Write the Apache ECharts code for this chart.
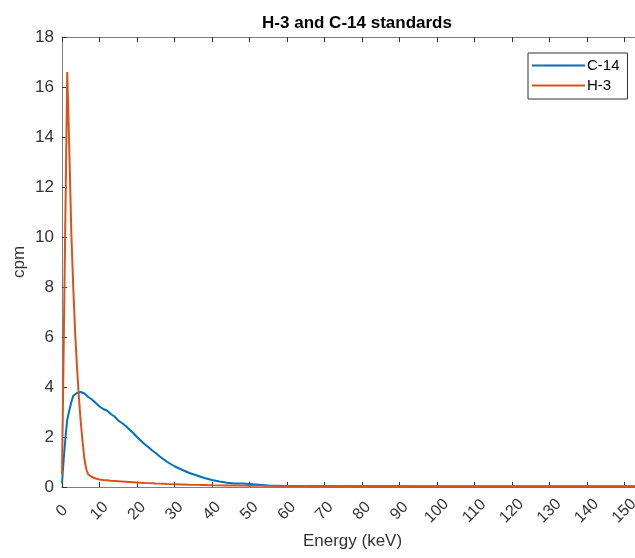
<!DOCTYPE html>
<html>
<head>
<meta charset="utf-8">
<script src="https://cdn.jsdelivr.net/npm/echarts@6/dist/echarts.min.js"></script>
<style>
  html, body { margin: 0; padding: 0; background: #fff; }
  #chart { width: 635px; height: 558px; }
</style>
</head>
<body>
<div id="chart"></div>
<script>
// energy grid (keV)
const energy = [0, 0.5, 1, 1.4, 2, 2.5, 3, 3.5, 4, 4.5, 5, 5.5, 6, 6.5, 7,
  8, 9, 10, 11, 12, 13, 14, 15, 16, 17, 18, 19, 20, 21, 22, 23, 24, 25, 26, 27, 28, 29, 30,
  32, 34, 36, 38, 40, 42, 44, 46, 48, 50,
  55, 60, 65, 70, 75, 80, 85, 90, 95, 100, 105, 110, 115, 120, 125, 130, 135, 140, 145, 150, 155];

const c14 = [0.15, 1.2, 2.1, 2.7, 3.1, 3.4, 3.65, 3.72, 3.76, 3.74, 3.8, 3.82, 3.74, 3.68, 3.6,
  3.5, 3.36, 3.22, 3.12, 3.06, 2.92, 2.82, 2.66, 2.56, 2.44, 2.3, 2.16, 2.0, 1.86, 1.72, 1.6, 1.47, 1.36, 1.23, 1.12, 1.01, 0.92, 0.83,
  0.69, 0.56, 0.46, 0.36, 0.28, 0.22, 0.17, 0.14, 0.14, 0.12,
  0.06, 0.04, 0.04, 0.03, 0.03, 0.03, 0.03, 0.03, 0.02, 0.02, 0.02, 0.02, 0.02, 0.02, 0.02, 0.02, 0.02, 0.02, 0.02, 0.02, 0.02];

const h3 = [0.5, 6.2, 12.0, 16.6, 13.2, 10.1, 8.0, 6.2, 4.8, 3.6, 2.6, 1.8, 1.1, 0.7, 0.5,
  0.4, 0.34, 0.3, 0.28, 0.27, 0.25, 0.24, 0.23, 0.22, 0.21, 0.2, 0.19, 0.18, 0.17, 0.16, 0.155, 0.15, 0.14, 0.135, 0.13, 0.12, 0.115, 0.11,
  0.1, 0.09, 0.085, 0.08, 0.07, 0.065, 0.06, 0.06, 0.055, 0.05,
  0.045, 0.04, 0.04, 0.04, 0.035, 0.035, 0.035, 0.035, 0.03, 0.03, 0.03, 0.03, 0.03, 0.03, 0.03, 0.03, 0.03, 0.03, 0.03, 0.03, 0.03];

const xTicks = [0, 10, 20, 30, 40, 50, 60, 70, 80, 90, 100, 110, 120, 130, 140, 150];

const pairs = (ys) => energy.map((e, i) => [e, ys[i]]);

const axisGray = '#7f7f7f';
const textGray = '#333';
const font = 'Liberation Sans, Arial, sans-serif';

let chart = echarts.init(document.getElementById('chart'));
chart.setOption({
    animation: false,
    backgroundColor: '#fff',
    title: {
        text: 'H-3 and C-14 standards',
        left: 352,
        textAlign: 'center',
        top: 10,
        textStyle: {fontFamily: font, fontSize: 17, fontWeight: 'bold', color: '#000'}
    },
    legend: {
        data: ['C-14', 'H-3'],
        orient: 'vertical',
        left: 528,
        top: 53,
        padding: [4, 8, 5, 4],
        icon: 'rect',
        itemWidth: 53,
        itemHeight: 2,
        itemGap: 3,
        backgroundColor: '#fff',
        borderColor: '#333',
        borderWidth: 1,
        borderRadius: 0,
        textStyle: {fontFamily: font, fontSize: 15, color: '#000', lineHeight: 17, padding: [0, 0, 0, -3]}
    },
    // y axis title
    graphic: [{
        type: 'text',
        x: 19,
        y: 262,
        rotation: Math.PI / 2,
        style: {
            text: 'cpm',
            fill: textGray,
            font: '17px Liberation Sans, Arial, sans-serif',
            textAlign: 'center',
            textVerticalAlign: 'middle'
        }
    }],
    grid: {
        left: 62,
        top: 37,
        right: -8,
        bottom: 71,
        containLabel: false,
        outerBoundsMode: 'none'
    },
    xAxis: [{
        type: 'value',
        min: 0,
        max: 155,
        interval: 10,
        name: 'Energy (keV)',
        nameLocation: 'middle',
        nameGap: 45,
        nameTextStyle: {fontFamily: font, fontSize: 17, color: textGray},
        axisLine: {lineStyle: {color: axisGray, width: 1}},
        axisTick: {inside: true, length: 5, lineStyle: {color: textGray}},
        splitLine: {show: false},
        axisLabel: {
            rotate: 45,
            margin: 24,
            align: 'center',
            verticalAlign: 'middle',
            fontFamily: font,
            fontSize: 16,
            color: textGray,
            showMaxLabel: false,
            formatter: (v) => xTicks.indexOf(v) >= 0 ? String(v) : ''
        }
    }, {
        type: 'value',
        position: 'top',
        min: 0,
        max: 155,
        interval: 10,
        axisLine: {show: true, lineStyle: {color: axisGray, width: 1}},
        axisTick: {inside: true, length: 5, lineStyle: {color: textGray}},
        axisLabel: {show: false},
        splitLine: {show: false}
    }],
    yAxis: {
        type: 'value',
        min: 0,
        max: 18,
        interval: 2,
        axisLine: {show: true, lineStyle: {color: axisGray, width: 1}},
        axisTick: {show: true, inside: true, length: 5, lineStyle: {color: textGray}},
        splitLine: {show: false},
        axisLabel: {margin: 8, fontFamily: font, fontSize: 17, color: textGray}
    },
    series: [
        {
            name: 'C-14',
            type: 'line',
            data: pairs(c14),
            symbol: 'none',
            lineStyle: {color: '#0072BD', width: 2},
            itemStyle: {color: '#0072BD'},
            z: 2
        },
        {
            name: 'H-3',
            type: 'line',
            data: pairs(h3),
            symbol: 'none',
            lineStyle: {color: '#D95319', width: 2},
            itemStyle: {color: '#D95319'},
            z: 3
        }
    ]
});
</script>
</body>
</html>
